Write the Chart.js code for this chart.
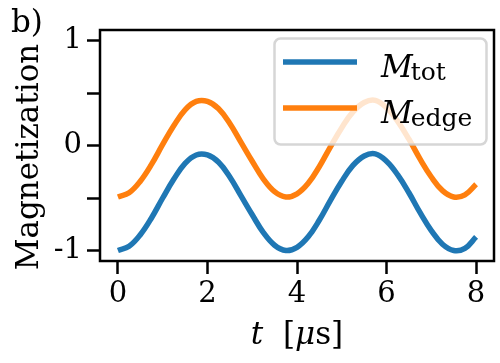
<!DOCTYPE html>
<html>
<head>
<meta charset="utf-8">
<script src="https://cdn.jsdelivr.net/npm/chart.js@4"></script>
<style>
  html, body { margin: 0; padding: 0; background: #fff; }
  #wrap { width: 500px; height: 363px; }
</style>
</head>
<body>
<div id="wrap"><canvas id="myChart" width="500" height="363"></canvas></div>
<script>
// time axis (microseconds)
var t = [0, 0.25, 0.5, 0.75, 1, 1.25, 1.5, 1.75, 2, 2.25, 2.5, 2.75, 3, 3.25, 3.5, 3.75,
         4, 4.25, 4.5, 4.75, 5, 5.25, 5.5, 5.75, 6, 6.25, 6.5, 6.75, 7, 7.25, 7.5, 7.75, 8];
var mTot = [-1.00, -0.96, -0.85, -0.69, -0.50, -0.32, -0.17, -0.09, -0.09, -0.16, -0.30, -0.48,
            -0.66, -0.83, -0.95, -1.00, -0.97, -0.87, -0.71, -0.52, -0.34, -0.19, -0.10, -0.08,
            -0.15, -0.28, -0.45, -0.64, -0.81, -0.94, -1.00, -0.98, -0.87];
var mEdge = [-0.49, -0.45, -0.34, -0.18, 0.01, 0.19, 0.34, 0.42, 0.42, 0.35, 0.21, 0.03,
             -0.15, -0.32, -0.44, -0.49, -0.46, -0.36, -0.20, -0.01, 0.17, 0.32, 0.41, 0.43,
             0.36, 0.23, 0.06, -0.13, -0.30, -0.43, -0.49, -0.47, -0.37];
// ticks
var xTicks = [0, 2, 4, 6, 8];
var yTicks = [-1, -0.5, 0, 0.5, 1];
var yTickLabels = {"-1": "-1", "0": "0", "1": "1"};

var SERIF = '"DejaVu Serif", serif';

function pts(ys) {
  return t.map(function (v, i) { return {x: v, y: ys[i]}; });
}

// frame, legend and text labels drawn by hand (subscripts, italics)
var overlay = {
  id: 'overlay',
  afterDatasetsDraw: function (chart) {
    var ctx = chart.ctx, a = chart.chartArea;
    ctx.save();
    ctx.strokeStyle = '#000';
    ctx.lineWidth = 2.5;
    ctx.strokeRect(a.left, a.top, a.right - a.left, a.bottom - a.top);

    // legend box
    var bx = 274.5, by = 38.5, bw = 212, bh = 106, r = 6;
    ctx.beginPath();
    ctx.moveTo(bx + r, by);
    ctx.arcTo(bx + bw, by, bx + bw, by + bh, r);
    ctx.arcTo(bx + bw, by + bh, bx, by + bh, r);
    ctx.arcTo(bx, by + bh, bx, by, r);
    ctx.arcTo(bx, by, bx + bw, by, r);
    ctx.closePath();
    ctx.fillStyle = 'rgba(255,255,255,0.8)';
    ctx.fill();
    ctx.strokeStyle = 'rgba(204,204,204,0.8)';
    ctx.lineWidth = 2.5;
    ctx.stroke();

    var entries = [
      {color: '#1f77b4', sub: 'tot', y: 62},
      {color: '#ff7f0e', sub: 'edge', y: 108}
    ];
    entries.forEach(function (e) {
      ctx.strokeStyle = e.color;
      ctx.lineWidth = 5.5;
      ctx.beginPath();
      ctx.moveTo(283, e.y);
      ctx.lineTo(357, e.y);
      ctx.stroke();
      ctx.fillStyle = '#000';
      ctx.textBaseline = 'alphabetic';
      ctx.textAlign = 'left';
      ctx.font = 'italic 31px ' + SERIF;
      ctx.fillText('M', 381, e.y + 15);
      var w = ctx.measureText('M').width;
      ctx.font = '25px ' + SERIF;
      ctx.fillText(e.sub, 381 + w - 2, e.y + 18);
    });
    ctx.restore();
  },
  afterDraw: function (chart) {
    var ctx = chart.ctx, a = chart.chartArea;
    ctx.save();
    ctx.fillStyle = '#000';
    ctx.textBaseline = 'alphabetic';
    // panel tag
    ctx.textAlign = 'left';
    ctx.font = '31px ' + SERIF;
    ctx.fillText('b)', 11, 32);
    // y axis title
    ctx.save();
    ctx.translate(38, 157);
    ctx.rotate(-Math.PI / 2);
    ctx.textAlign = 'center';
    ctx.fillText('Magnetization', 0, 0);
    ctx.restore();
    // x axis title: t [μs]
    var parts = [
      {s: 't', f: 'italic 31px ' + SERIF},
      {s: '  [', f: '31px ' + SERIF},
      {s: 'μ', f: 'italic 31px ' + SERIF},
      {s: 's]', f: '31px ' + SERIF}
    ];
    var total = 0;
    parts.forEach(function (p) { ctx.font = p.f; p.w = ctx.measureText(p.s).width; total += p.w; });
    var cx = (a.left + a.right) / 2;
    var x = cx - total / 2;
    parts.forEach(function (p) {
      ctx.font = p.f;
      ctx.fillText(p.s, x, 344);
      x += p.w;
    });
    ctx.restore();
  }
};

var ctx = document.getElementById('myChart');
var myChart = new Chart(ctx, {
  type: 'line',
  data: {
    datasets: [
      {
        label: 'M_tot',
        data: pts(mTot),
        borderColor: '#1f77b4',
        borderWidth: 5.5,
        pointRadius: 0,
        tension: 0.4,
        fill: false
      },
      {
        label: 'M_edge',
        data: pts(mEdge),
        borderColor: '#ff7f0e',
        borderWidth: 5.5,
        pointRadius: 0,
        tension: 0.4,
        fill: false
      }
    ]
  },
  options: {
    responsive: false,
    animation: false,
    layout: { padding: { left: 0, right: 6, top: 30, bottom: 0 } },
    plugins: { legend: { display: false }, tooltip: { enabled: false } },
    scales: {
      x: {
        type: 'linear',
        min: -0.4,
        max: 8.4,
        afterBuildTicks: function (s) { s.ticks = xTicks.map(function (v) { return {value: v}; }); },
        afterFit: function (s) { s.height = 102; },
        grid: { drawOnChartArea: false, tickLength: 13, tickWidth: 2.5, tickColor: '#000' },
        border: { display: false },
        ticks: {
          color: '#000',
          font: { family: SERIF, size: 29 },
          padding: 3,
          maxRotation: 0,
          callback: function (v) { return String(v); }
        }
      },
      y: {
        min: -1.1,
        max: 1.1,
        afterBuildTicks: function (s) { s.ticks = yTicks.map(function (v) { return {value: v}; }); },
        afterFit: function (s) { s.width = 100; },
        grid: { drawOnChartArea: false, tickLength: 13, tickWidth: 2.5, tickColor: '#000' },
        border: { display: false },
        ticks: {
          color: '#000',
          font: { family: SERIF, size: 29 },
          padding: 5,
          callback: function (v) { return yTickLabels[String(v)] || ''; }
        }
      }
    }
  },
  plugins: [overlay]
});
</script>
</body>
</html>
